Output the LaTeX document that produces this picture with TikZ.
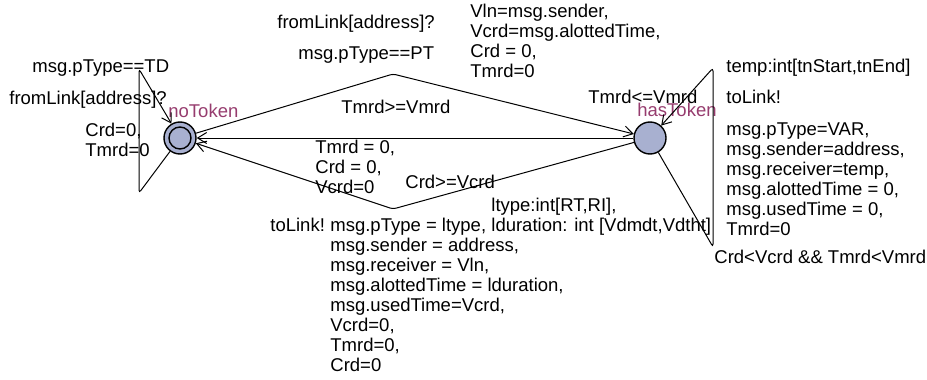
\documentclass[tikz,border=0pt]{standalone}
\usepackage{fontspec}
\setmainfont{Liberation Sans}
\usepackage{xcolor}
\usetikzlibrary{arrows.meta}

\definecolor{locfill}{RGB}{168,176,208}
\definecolor{locname}{RGB}{150,60,110}
\newcommand{\lines}[1]{\begin{tabular}[t]{@{}l@{}}#1\end{tabular}}

\begin{document}
\begin{tikzpicture}[x=0.5pt, y=-0.5pt,
    font=\fontsize{9.25pt}{10pt}\selectfont,
    loc/.style={circle, draw, line width=0.7pt, fill=locfill, minimum size=16pt, inner sep=0pt},
    trans/.style={line width=0.5pt, -{Straight Barb[length=4.5pt,width=5.5pt]}, rounded corners=1.5pt},
    expr/.style={anchor=base west, inner sep=0pt},
    locid/.style={expr, text=locname}]
    \useasboundingbox (0,0) rectangle (927,380);

    % Locations
    \node[loc] (noToken) at (180,138) {};
    \draw[line width=0.7pt] (noToken.center) circle[radius=5.5pt];
    \node[loc] (hasToken) at (650,138) {};
    \node[locid] (noTokenId) at (168,117) {noToken};
    \node[locid] (hasTokenId) at (637,116) {hasToken};
    \node[expr] (hasTokenInv) at (588,103) {Tmrd<=Vmrd};

    % Bend points
    \coordinate (topBend) at (393,74);
    \coordinate (botBend) at (393,209);
    \coordinate (noLoopA) at (139,193);
    \coordinate (noLoopB) at (139,69);
    \coordinate (hasLoopA) at (713,247);
    \coordinate (hasLoopB) at (713,68);

    % Transitions
    \draw[trans] (noToken) -- (topBend) -- (hasToken);
    \draw[trans] (hasToken) -- (noToken);
    \draw[trans] (hasToken) -- (botBend) -- (noToken);
    \draw[trans] (noToken) -- (noLoopA) -- (noLoopB) -- (noToken);
    \draw[trans] (hasToken) -- (hasLoopA) -- (hasLoopB) -- (hasToken);

    % Self loop on noToken
    \node[expr] (tdGuard) at (32,72) {msg.pType==TD};
    \node[expr] (tdSync) at (9,104) {fromLink[address]?};
    \node[expr] (tdUpdate) at (85,136) {\lines{Crd=0,\\Tmrd=0}};

    % noToken to hasToken
    \node[expr] (ptSync) at (277,28) {fromLink[address]?};
    \node[expr] (ptGuard) at (298,60) {msg.pType==PT};
    \node[expr] (ptUpdate) at (470,18) {\lines{Vln=msg.sender,\\Vcrd=msg.alottedTime,\\Crd = 0,\\Tmrd=0}};

    % hasToken to noToken, straight
    \node[expr] (tmGuard) at (341,113) {Tmrd>=Vmrd};
    \node[expr] (tmUpdate) at (315,153) {\lines{Tmrd = 0,\\Crd = 0,\\Vcrd=0}};

    % hasToken to noToken, lower
    \node[expr] (crGuard) at (405,188) {Crd>=Vcrd};
    \node[expr] (crSelect) at (491,211) {\lines{ltype:int[RT,RI],\\lduration: int [Vdmdt,Vdtht]}};
    \node[expr] (crSync) at (270,231) {toLink!};
    \node[expr] (crUpdate) at (330,231) {\lines{msg.pType = ltype,\\msg.sender = address,\\msg.receiver = Vln,\\msg.alottedTime = lduration,\\msg.usedTime=Vcrd,\\Vcrd=0,\\Tmrd=0,\\Crd=0}};

    % Self loop on hasToken
    \node[expr] (varSelect) at (726,72) {temp:int[tnStart,tnEnd]};
    \node[expr] (varSync) at (726,103) {toLink!};
    \node[expr] (varUpdate) at (726,135) {\lines{msg.pType=VAR,\\msg.sender=address,\\msg.receiver=temp,\\msg.alottedTime = 0,\\msg.usedTime = 0,\\Tmrd=0}};
    \node[expr] (varGuard) at (714,263) {Crd<Vcrd \&\& Tmrd<Vmrd};
\end{tikzpicture}
\end{document}
